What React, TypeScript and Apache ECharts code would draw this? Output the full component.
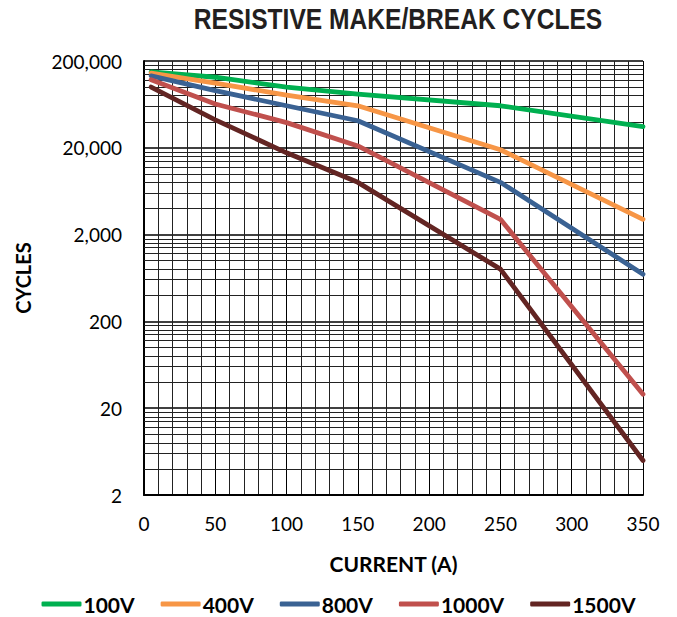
import React, { useEffect, useRef } from "react";
import * as echarts from "echarts";

const currents = [5, 50, 100, 150, 250, 350];
const v100 = [150000, 130000, 100000, 83000, 61000, 35000];
const v400 = [145000, 111000, 81000, 61000, 19000, 3000];
const v800 = [135000, 91000, 61000, 41000, 8000, 700];
const v1000 = [122000, 64000, 39000, 21000, 3000, 29];
const v1500 = [100000, 42000, 17500, 8000, 800, 5];

const seriesNames = ["100V", "400V", "800V", "1000V", "1500V"];
const seriesColors = ["#00b050", "#f79646", "#3a6293", "#c0504d", "#632523"];
const seriesValues = [v100, v400, v800, v1000, v1500];

const yBase = 2; // lowest tick value
const yDecades = 5; // 2 .. 200,000
const minorMultipliers = [2, 3, 4, 5, 6, 7, 8, 9];

const toLog = (v: number) => Math.log10(v / yBase);

export default function App() {
  const ref = useRef<HTMLDivElement>(null);

  useEffect(() => {
    document.body.style.margin = "0";
    if (!ref.current) return;
    const chart = echarts.init(ref.current, null, { renderer: "svg" });

    const minorLines: { yAxis: number }[] = [];
    for (let n = 0; n < yDecades; n++) {
      for (const k of minorMultipliers) {
        minorLines.push({ yAxis: n + Math.log10(k) });
      }
    }

    const tickFont = "Lato, 'Open Sans', sans-serif";

    const option: any = {
      animation: false,
      backgroundColor: "#ffffff",
      graphic: [
        {
          type: "text",
          x: 398,
          y: 19,
          scaleX: 0.82,
          style: {
            text: "RESISTIVE MAKE/BREAK CYCLES",
            font: "bold 30px 'Liberation Sans', Arial, sans-serif",
            fill: "#231f20",
            align: "center",
            verticalAlign: "middle",
          },
        },
      ],
      grid: { left: 144, right: 34, top: 61, bottom: 122 },
      xAxis: {
        type: "value",
        min: 0,
        max: 350,
        interval: 50,
        name: "CURRENT (A)",
        nameLocation: "middle",
        nameGap: 58,
        nameTextStyle: { fontFamily: tickFont, fontWeight: "bold", fontSize: 21, color: "#000" },
        axisLine: { show: true, lineStyle: { color: "#000", width: 2 } },
        axisTick: { show: false },
        axisLabel: { fontFamily: tickFont, fontSize: 19, color: "#000", margin: 19 },
        splitLine: { show: true, lineStyle: { color: "#000", width: 1 } },
        minorTick: { show: false, splitNumber: 5 },
        minorSplitLine: { show: true, lineStyle: { color: "#222", width: 1 } },
      },
      yAxis: {
        type: "value",
        min: 0,
        max: yDecades,
        interval: 1,
        name: "CYCLES",
        nameLocation: "middle",
        nameGap: 111,
        nameRotate: 90,
        nameTextStyle: { fontFamily: tickFont, fontWeight: "bold", fontSize: 20, color: "#000" },
        axisLine: { show: true, lineStyle: { color: "#000", width: 2 } },
        axisTick: { show: false },
        axisLabel: {
          fontFamily: tickFont,
          fontSize: 19,
          color: "#000",
          margin: 22,
          formatter: (t: number) => Math.round(yBase * Math.pow(10, t)).toLocaleString("en-US"),
        },
        splitLine: { show: true, lineStyle: { color: "#000", width: 1.6 } },
      },
      legend: {
        data: seriesNames,
        left: "center",
        top: 588,
        icon: "roundRect",
        itemWidth: 40,
        itemHeight: 5,
        itemGap: 26,
        textStyle: {
          fontFamily: tickFont,
          fontWeight: "bold",
          fontSize: 21,
          lineHeight: 22,
          color: "#000",
          padding: [0, 0, 0, -3],
        },
      },
      series: [
        {
          type: "line",
          name: "grid-minor",
          data: [],
          silent: true,
          z: 1,
          markLine: {
            silent: true,
            animation: false,
            symbol: ["none", "none"],
            label: { show: false },
            emphasis: { disabled: true },
            lineStyle: { color: "#222", width: 1, type: "solid" },
            data: minorLines,
          },
        },
        ...seriesNames.map((name, i) => ({
          type: "line",
          name,
          z: 5,
          symbol: "none",
          color: seriesColors[i],
          itemStyle: { color: seriesColors[i] },
          lineStyle: { color: seriesColors[i], width: 4.8, cap: "round", join: "round" },
          data: currents.map((c, j) => [c, toLog(seriesValues[i][j])]),
        })),
      ],
    };

    chart.setOption(option);
    return () => chart.dispose();
  }, []);

  return <div ref={ref} style={{ width: 677, height: 617 }} />;
}
